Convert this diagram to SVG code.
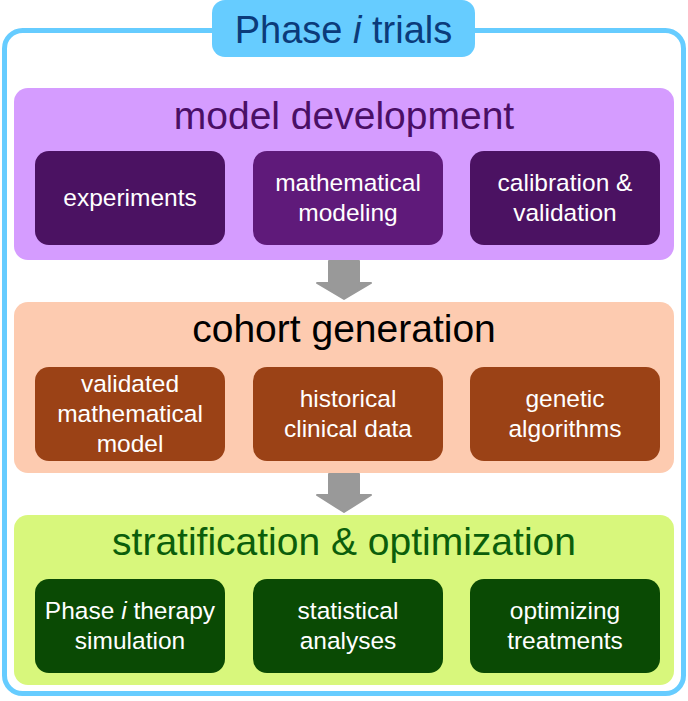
<svg xmlns="http://www.w3.org/2000/svg" width="688" height="701" viewBox="0 0 688 701">
<style>
text{font-family:"Liberation Sans",Arial,Helvetica,sans-serif;text-anchor:middle}
.panel{stroke:none}
.ttl{font-size:39px}
.bt{font-size:24.5px;fill:#ffffff}
.arrow{fill:#999999;stroke:#999999;stroke-width:2;stroke-linejoin:round}
</style>
<rect x="0" y="0" width="688" height="701" fill="#ffffff"/>
<g id="frame">
<rect x="4.5" y="30.5" width="679" height="663" rx="18" fill="none" stroke="#66ccff" stroke-width="5"/>
</g>
<g id="title">
<rect x="212" y="0" width="263" height="57" rx="13" fill="#66ccff"/>
<text x="343.5" y="43" style="font-size:38px" fill="#0b3b7a">Phase <tspan font-style="italic">i</tspan> trials</text>
</g>
<g id="model-development">
<rect class="panel" x="14" y="88" width="660" height="172" rx="14" fill="#d59cff"/>
<text class="ttl" x="344" y="129" fill="#4a0f66">model development</text>
</g>
<g id="experiments">
<rect x="35" y="151" width="190" height="94" rx="14" fill="#4b1262"/>
<text class="bt" x="130" y="206">experiments</text>
</g>
<g id="mathematical-modeling">
<rect x="253" y="151" width="190" height="94" rx="14" fill="#5f1a7a"/>
<text class="bt" x="348" y="191">mathematical</text>
<text class="bt" x="348" y="221">modeling</text>
</g>
<g id="calibration-validation">
<rect x="470" y="151" width="190" height="94" rx="14" fill="#4b1262"/>
<text class="bt" x="565" y="191">calibration &amp;</text>
<text class="bt" x="565" y="221">validation</text>
</g>
<g id="cohort-generation">
<rect class="panel" x="14" y="302" width="660" height="171" rx="14" fill="#fdcbb0"/>
<text class="ttl" x="344" y="342" fill="#000000">cohort generation</text>
</g>
<g id="validated-model">
<rect x="35" y="367" width="190" height="94" rx="14" fill="#9b4216"/>
<text class="bt" x="130" y="392">validated</text>
<text class="bt" x="130" y="422">mathematical</text>
<text class="bt" x="130" y="452">model</text>
</g>
<g id="historical-data">
<rect x="253" y="367" width="190" height="94" rx="14" fill="#9b4216"/>
<text class="bt" x="348" y="407">historical</text>
<text class="bt" x="348" y="437">clinical data</text>
</g>
<g id="genetic-algorithms">
<rect x="470" y="367" width="190" height="94" rx="14" fill="#9b4216"/>
<text class="bt" x="565" y="407">genetic</text>
<text class="bt" x="565" y="437">algorithms</text>
</g>
<g id="stratification-optimization">
<rect class="panel" x="14" y="515" width="660" height="170" rx="14" fill="#d8f77c"/>
<text class="ttl" x="344" y="555" fill="#0b5e0b">stratification &amp; optimization</text>
</g>
<g id="therapy-simulation">
<rect x="35" y="579" width="190" height="94" rx="14" fill="#0a4a04"/>
<text class="bt" x="130" y="619">Phase <tspan font-style="italic">i</tspan> therapy</text>
<text class="bt" x="130" y="649">simulation</text>
</g>
<g id="statistical-analyses">
<rect x="253" y="579" width="190" height="94" rx="14" fill="#0a4a04"/>
<text class="bt" x="348" y="619">statistical</text>
<text class="bt" x="348" y="649">analyses</text>
</g>
<g id="optimizing-treatments">
<rect x="470" y="579" width="190" height="94" rx="14" fill="#0a4a04"/>
<text class="bt" x="565" y="619">optimizing</text>
<text class="bt" x="565" y="649">treatments</text>
</g>
<g id="connectors">
<path class="arrow" d="M329,261 L359,261 L359,283 L371,283 L344,299 L317,283 L329,283 Z"/>
<path class="arrow" d="M329,474 L359,474 L359,495 L371,495 L344,512 L317,495 L329,495 Z"/>
</g>
</svg>
